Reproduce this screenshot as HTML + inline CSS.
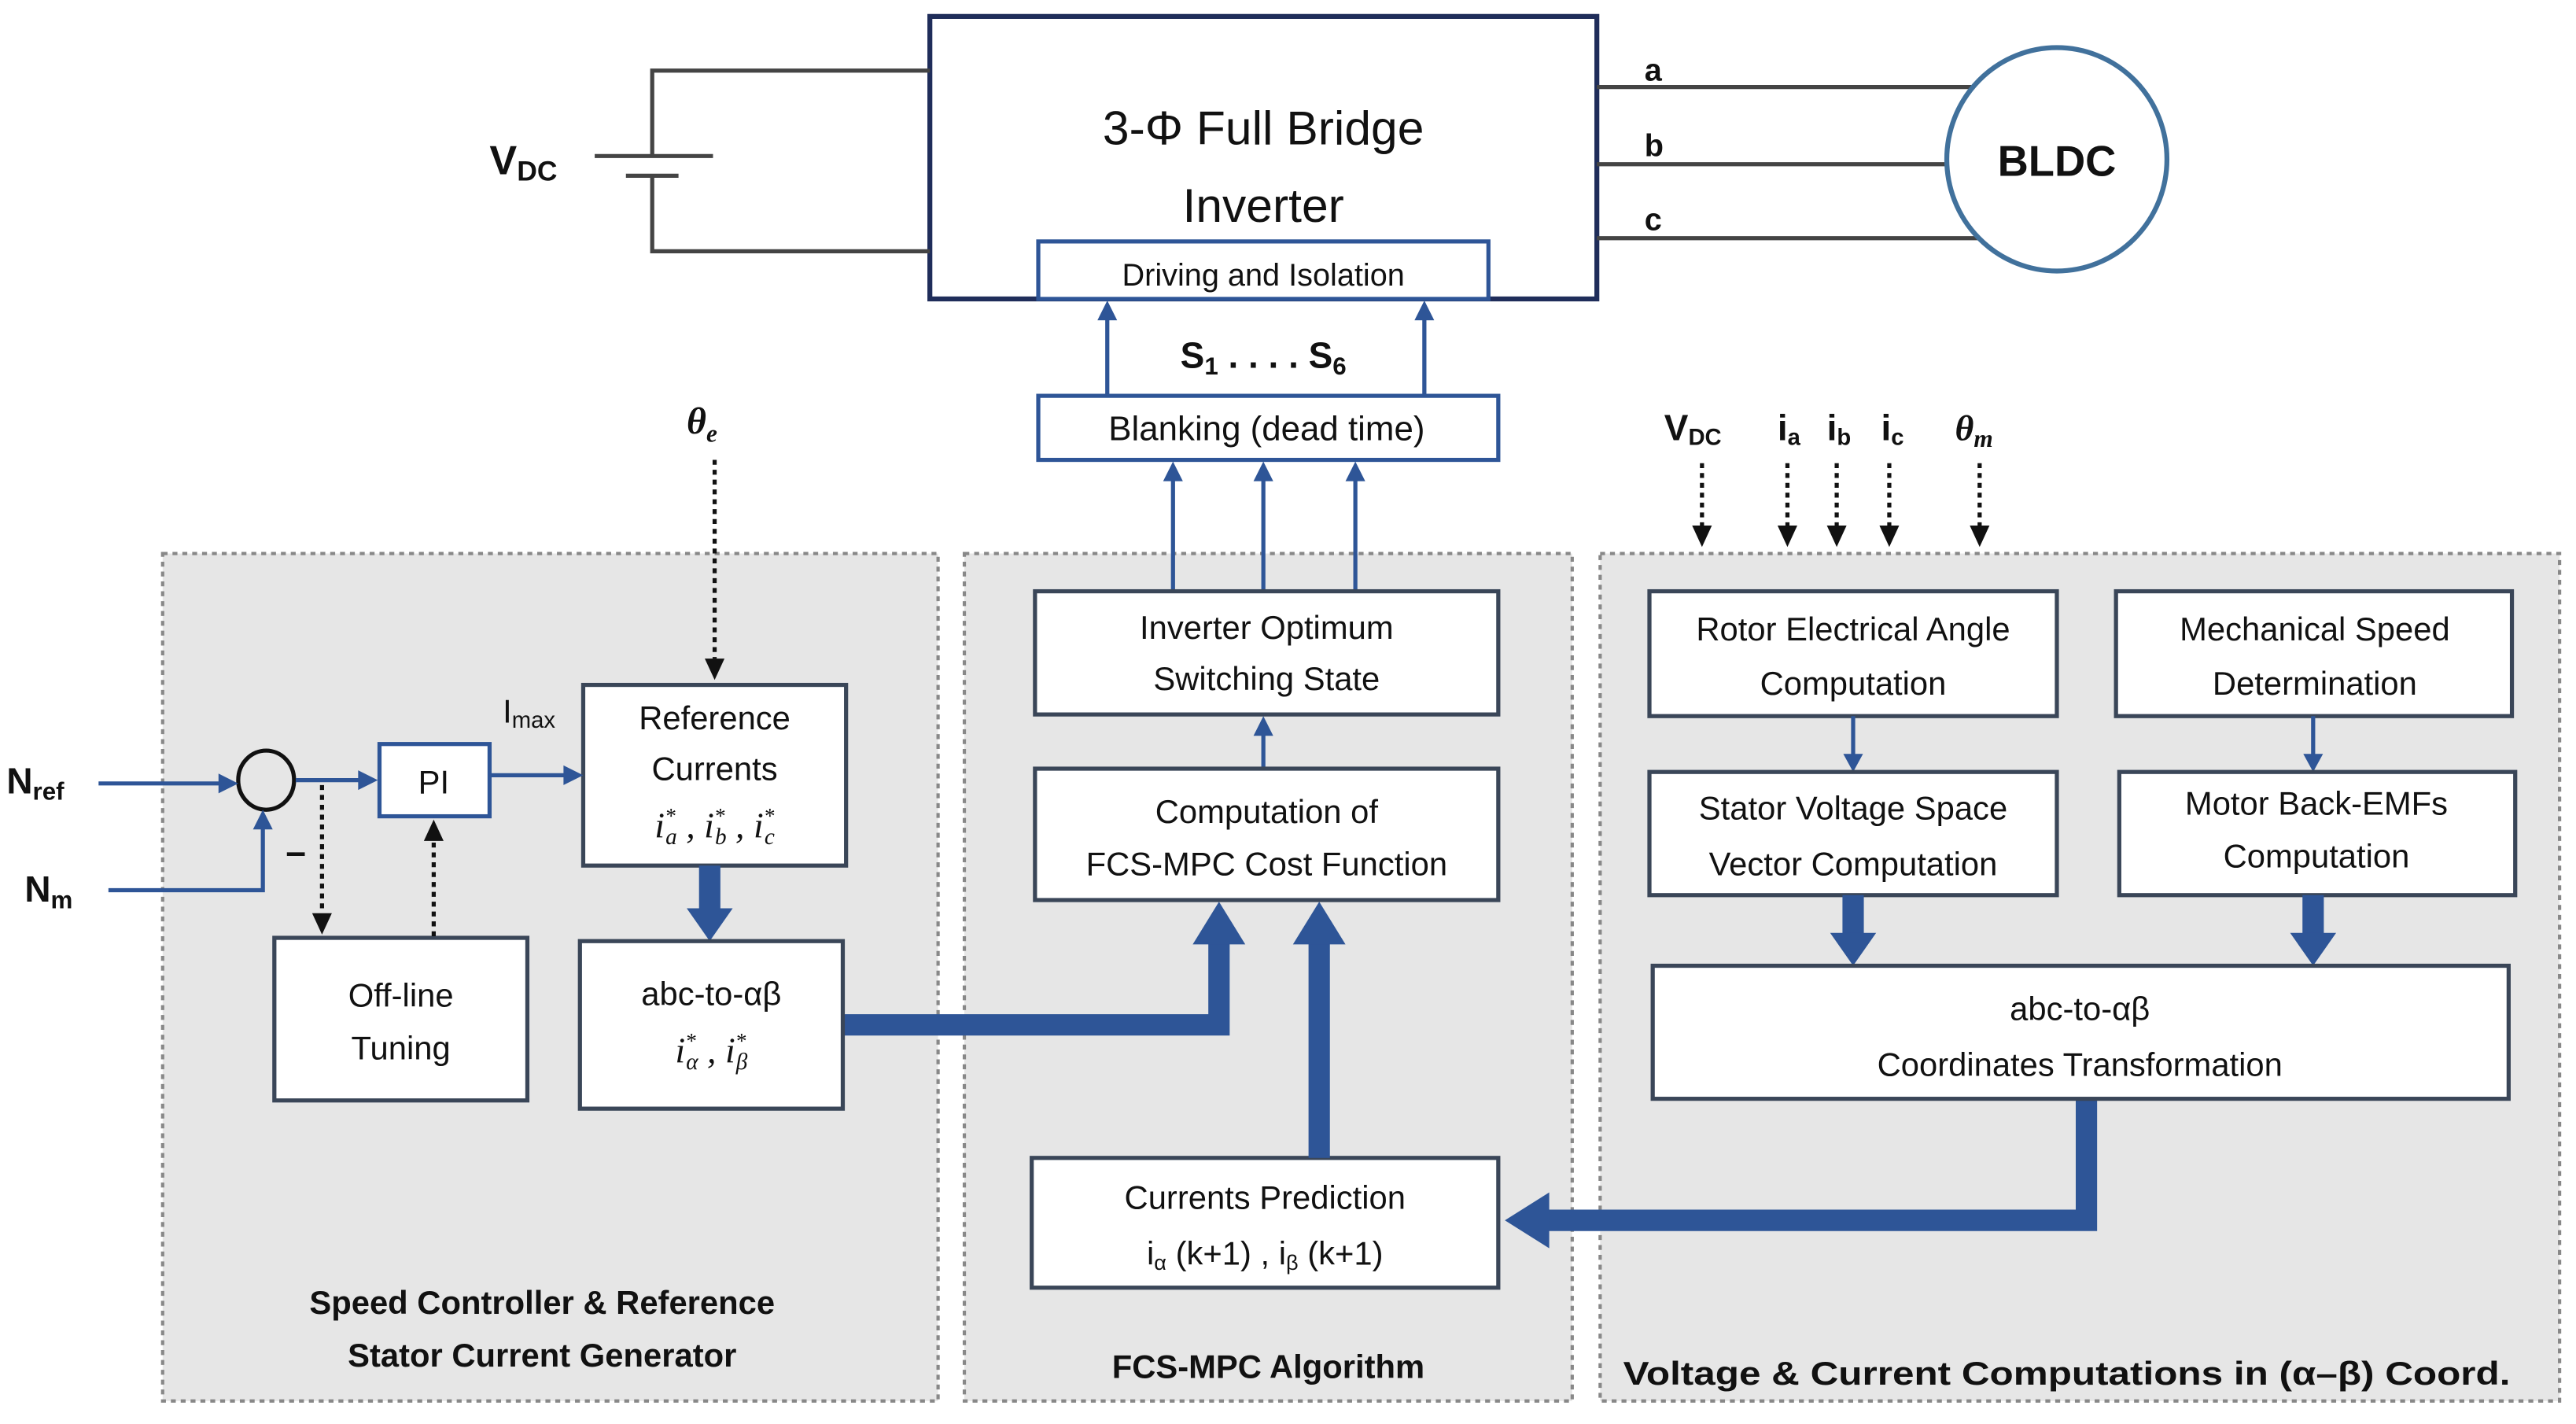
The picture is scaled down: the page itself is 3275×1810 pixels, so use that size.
<!DOCTYPE html>
<html><head><meta charset="utf-8"><style>
html,body{margin:0;padding:0;background:#fff}
svg{display:block}
text{font-family:"Liberation Sans",sans-serif;fill:#111}
.b{fill:#fff;stroke:#3a4658;stroke-width:2.5}
.bb{fill:#fff;stroke:#2e5597;stroke-width:2.5}
.t{font-size:20px;text-anchor:middle}
.bd{font-weight:bold}
.bl{stroke:#2e5597;stroke-width:2.5;fill:none}
.tk{stroke:#2e5597;stroke-width:13;fill:none}
.dt{stroke:#111;stroke-width:2.5;stroke-dasharray:3 3;fill:none}
.pn{fill:#e6e6e6;stroke:#888;stroke-width:2;stroke-dasharray:3 3}
.ah{fill:#2e5597}
.ak{fill:#111}
.w{stroke:#444;stroke-width:2.5;fill:none}
</style></head><body>
<svg width="3275" height="1810" viewBox="0 0 1568 867" preserveAspectRatio="none" xmlns="http://www.w3.org/2000/svg">
<!-- panels -->
<rect class="pn" x="99" y="337" width="472" height="516"/>
<rect class="pn" x="587" y="337" width="370" height="516"/>
<rect class="pn" x="974" y="337" width="584" height="516"/>

<!-- inverter -->
<rect x="566" y="10" width="406" height="172" fill="#fff" stroke="#1f2d5a" stroke-width="3"/>
<text class="t" x="769" y="88" style="font-size:29px">3-Φ Full Bridge</text>
<text class="t" x="769" y="135" style="font-size:29px">Inverter</text>
<rect class="bb" x="632" y="147" width="274" height="35"/>
<text class="t" x="769" y="174" style="font-size:19px">Driving and Isolation</text>

<!-- battery -->
<path class="w" d="M566 43 H397 V95 M362 95 H434 M381 107 H413 M397 107 V153 H566"/>
<text x="298" y="106" class="bd" style="font-size:25px">V<tspan style="font-size:17px" dy="4">DC</tspan></text>

<!-- phases -->
<path class="w" d="M972 53 H1200 M972 100 H1186 M972 145 H1205"/>
<text x="1001" y="49" class="bd" style="font-size:19px">a</text>
<text x="1001" y="95" class="bd" style="font-size:19px">b</text>
<text x="1001" y="140" class="bd" style="font-size:19px">c</text>
<ellipse cx="1252" cy="97" rx="67" ry="68" fill="#fff" stroke="#41719c" stroke-width="3"/>
<text class="t bd" x="1252" y="107" style="font-size:26px">BLDC</text>

<!-- S arrows -->
<path class="bl" d="M674 241 V190 M867 241 V190"/>
<path class="ah" d="M674 183 l-6 12 h12z M867 183 l-6 12 h12z"/>
<text class="t bd" x="769" y="224" style="font-size:22px">S<tspan style="font-size:15px" dy="4">1</tspan><tspan dy="-4"> . . . . S</tspan><tspan style="font-size:15px" dy="4">6</tspan></text>

<rect class="bb" x="632" y="241" width="280" height="39"/>
<text class="t" x="771" y="268" style="font-size:21px">Blanking (dead time)</text>

<path class="bl" d="M714 360 V289 M769 360 V289 M825 360 V289"/>
<path class="ah" d="M714 281 l-6 12 h12z M769 281 l-6 12 h12z M825 281 l-6 12 h12z"/>

<!-- MPC boxes -->
<rect class="b" x="630" y="360" width="282" height="75"/>
<text class="t" x="771" y="389">Inverter Optimum</text>
<text class="t" x="771" y="420">Switching State</text>
<path class="bl" d="M769 468 V444"/>
<path class="ah" d="M769 436 l-6 12 h12z"/>
<rect class="b" x="630" y="468" width="282" height="80"/>
<text class="t" x="771" y="501">Computation of</text>
<text class="t" x="771" y="533">FCS-MPC Cost Function</text>
<rect class="b" x="628" y="705" width="284" height="79"/>
<text class="t" x="770" y="736">Currents Prediction</text>
<text class="t" x="770" y="770">i<tspan style="font-size:13px" dy="3">α</tspan><tspan dy="-3"> (k+1) , i</tspan><tspan style="font-size:13px" dy="3">β</tspan><tspan dy="-3"> (k+1)</tspan></text>

<!-- thick arrows into cost fn -->
<path class="tk" d="M513 624 H742 V572"/>
<path class="ah" d="M742 549 l-16 26 h32z"/>
<path class="tk" d="M803 705 V572"/>
<path class="ah" d="M803 549 l-16 26 h32z"/>
<path class="tk" d="M1270 669 V743 H942"/>
<path class="ah" d="M916 743 l27 -17 v34z"/>

<!-- right panel -->
<rect class="b" x="1004" y="360" width="248" height="76"/>
<text class="t" x="1128" y="390">Rotor Electrical Angle</text>
<text class="t" x="1128" y="423">Computation</text>
<rect class="b" x="1288" y="360" width="241" height="76"/>
<text class="t" x="1409" y="390">Mechanical Speed</text>
<text class="t" x="1409" y="423">Determination</text>
<path class="bl" d="M1128 436 V462 M1408 436 V462"/>
<path class="ah" d="M1128 470 l-6 -11 h12z M1408 470 l-6 -11 h12z"/>
<rect class="b" x="1004" y="470" width="248" height="75"/>
<text class="t" x="1128" y="499">Stator Voltage Space</text>
<text class="t" x="1128" y="533">Vector Computation</text>
<rect class="b" x="1290" y="470" width="241" height="75"/>
<text class="t" x="1410" y="496">Motor Back-EMFs</text>
<text class="t" x="1410" y="528">Computation</text>
<path class="tk" d="M1128 545 V570 M1408 545 V570"/>
<path class="ah" d="M1128 588 l-14 -20 h28z M1408 588 l-14 -20 h28z"/>
<rect class="b" x="1006" y="588" width="521" height="81"/>
<text class="t" x="1266" y="621">abc-to-αβ</text>
<text class="t" x="1266" y="655">Coordinates Transformation</text>

<!-- top dotted inputs right -->
<text x="1013" y="268" class="bd" style="font-size:22px">V<tspan style="font-size:14px" dy="3">DC</tspan></text>
<text x="1082" y="268" class="bd" style="font-size:22px">i<tspan style="font-size:14px" dy="3">a</tspan></text>
<text x="1112" y="268" class="bd" style="font-size:22px">i<tspan style="font-size:14px" dy="3">b</tspan></text>
<text x="1145" y="268" class="bd" style="font-size:22px">i<tspan style="font-size:14px" dy="3">c</tspan></text>
<text x="1190" y="268" class="bd" style="font-size:22px;font-family:'Liberation Serif',serif;font-style:italic">θ<tspan style="font-size:15px" dy="4">m</tspan></text>
<path class="dt" d="M1036 282 V320 M1088 282 V320 M1118 282 V320 M1150 282 V320 M1205 282 V320"/>
<path class="ak" d="M1036 333 l-6 -13 h12z M1088 333 l-6 -13 h12z M1118 333 l-6 -13 h12z M1150 333 l-6 -13 h12z M1205 333 l-6 -13 h12z"/>

<!-- left panel -->
<text x="418" y="264" class="bd" style="font-size:23px;font-family:'Liberation Serif',serif;font-style:italic">θ<tspan style="font-size:15px" dy="5">e</tspan></text>
<path class="dt" d="M435 280 V401"/>
<path class="ak" d="M435 414 l-6 -13 h12z"/>
<rect class="b" x="355" y="417" width="160" height="110"/>
<text class="t" x="435" y="444">Reference</text>
<text class="t" x="435" y="475">Currents</text>
<text class="t" x="435" y="510" style="font-family:'Liberation Serif',serif;font-style:italic;font-size:22px">i<tspan style="font-size:13px" dy="-9">*</tspan><tspan style="font-size:14px" dx="-6" dy="13">a</tspan><tspan dy="-4"> , i</tspan><tspan style="font-size:13px" dy="-9">*</tspan><tspan style="font-size:14px" dx="-6" dy="13">b</tspan><tspan dy="-4"> , i</tspan><tspan style="font-size:13px" dy="-9">*</tspan><tspan style="font-size:14px" dx="-6" dy="13">c</tspan></text>
<text x="306" y="440" style="font-size:20px">I<tspan style="font-size:14px" dy="3">max</tspan></text>
<path class="tk" d="M432 527 V556"/>
<path class="ah" d="M432 573 l-14 -20 h28z"/>
<rect class="b" x="353" y="573" width="160" height="102"/>
<text class="t" x="433" y="612">abc-to-αβ</text>
<text class="t" x="433" y="647" style="font-family:'Liberation Serif',serif;font-style:italic;font-size:22px">i<tspan style="font-size:13px" dy="-9">*</tspan><tspan style="font-size:14px" dx="-6" dy="13">α</tspan><tspan dy="-4"> , i</tspan><tspan style="font-size:13px" dy="-9">*</tspan><tspan style="font-size:14px" dx="-6" dy="13">β</tspan></text>
<rect class="b" x="167" y="571" width="154" height="99"/>
<text class="t" x="244" y="613">Off-line</text>
<text class="t" x="244" y="645">Tuning</text>
<rect class="bb" x="231" y="453" width="67" height="44" stroke-width="3"/>
<text class="t" x="264" y="483">PI</text>
<ellipse cx="162" cy="475" rx="17" ry="18" fill="none" stroke="#111" stroke-width="2.5"/>
<text x="4" y="483" class="bd" style="font-size:22px">N<tspan style="font-size:15px" dy="4">ref</tspan></text>
<text x="15" y="549" class="bd" style="font-size:22px">N<tspan style="font-size:15px" dy="4">m</tspan></text>
<path class="bl" d="M60 477 H135 M66 542 H160 V502 M180 475 H221 M298 472 H345"/>
<path class="ah" d="M145 477 l-12 -6 v12z M160 493 l-6 12 h12z M230 475 l-12 -6 v12z M355 472 l-12 -6 v12z"/>
<text x="174" y="526" class="bd" style="font-size:22px">–</text>
<path class="dt" d="M196 478 V556 M264 570 V512"/>
<path class="ak" d="M196 569 l-6 -13 h12z M264 499 l-6 13 h12z"/>

<!-- panel titles -->
<text class="t bd" x="330" y="800" style="font-size:20px">Speed Controller &amp; Reference</text>
<text class="t bd" x="330" y="832" style="font-size:20px">Stator Current Generator</text>
<text class="t bd" x="772" y="839" style="font-size:20px">FCS-MPC Algorithm</text>
<text class="t bd" x="1258" y="843" style="font-size:20px" textLength="540" lengthAdjust="spacingAndGlyphs">Voltage &amp; Current Computations in (α–β) Coord.</text>
</svg>
</body></html>
